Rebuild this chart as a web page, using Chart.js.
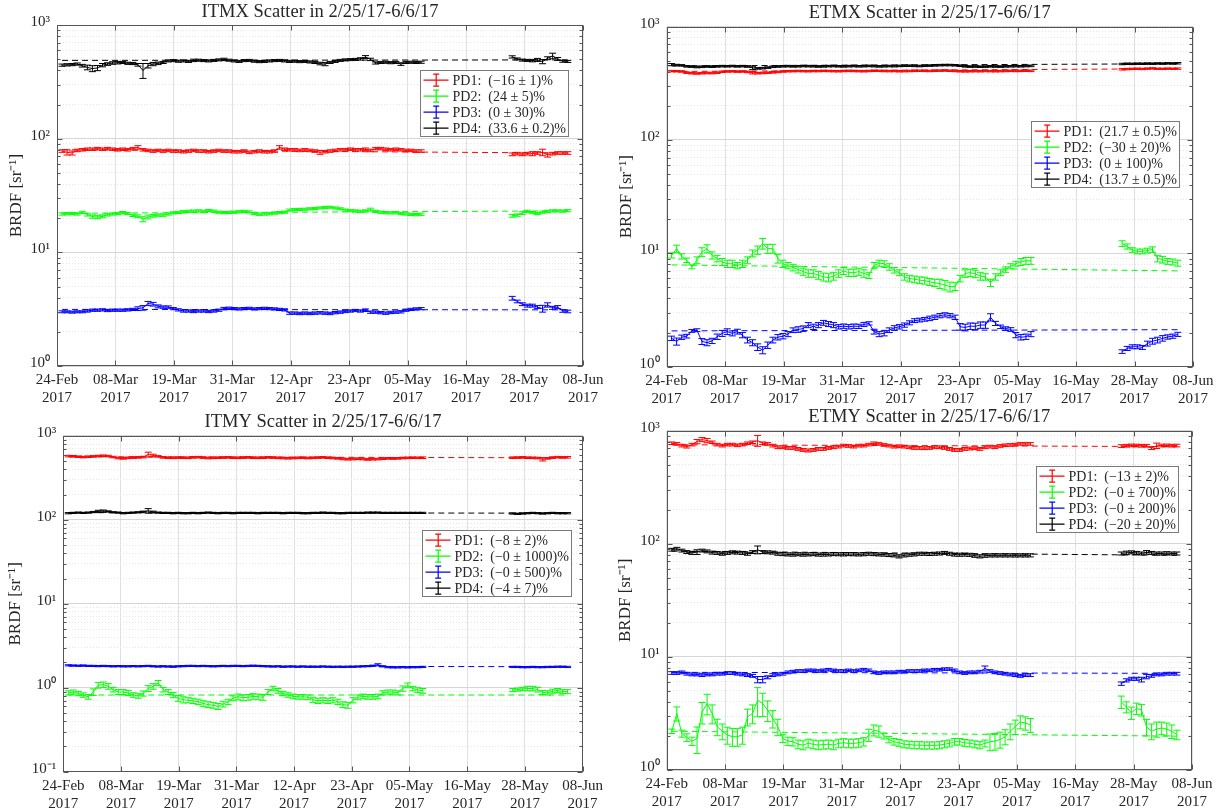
<!DOCTYPE html>
<html><head><meta charset="utf-8">
<script src="https://cdn.jsdelivr.net/npm/chart.js@4.4.1/dist/chart.umd.min.js"></script>
<style>
body{margin:0;background:#fff;width:1228px;height:812px;overflow:hidden;position:relative}
canvas{position:absolute}
</style></head><body>
<canvas id="c1" width="614" height="406" style="left:0;top:0"></canvas>
<canvas id="c2" width="614" height="406" style="left:614px;top:0"></canvas>
<canvas id="c3" width="614" height="406" style="left:0;top:406px"></canvas>
<canvas id="c4" width="614" height="406" style="left:614px;top:406px"></canvas>
<script>
// ---------- shared data ----------
const days = [1,2,3,4,5,6,7,8,9,10,11,12,13,14,15,16,17,18,19,20,21,22,23,24,25,26,27,28,29,30,31,32,33,34,35,36,
37,38,39,40,41,42,43,44,45,46,47,48,49,50,51,52,53,54,55,56,57,58,59,60,61,62,63,64,65,66,67,68,69,70,71,72,
90,91,92,93,94,95,96,97,98,99,100,101];
const fitDays = [1, 101];
const xSpanDays = 104;
const xTickLabels = [['24-Feb','2017'],['08-Mar','2017'],['19-Mar','2017'],['31-Mar','2017'],['12-Apr','2017'],
  ['23-Apr','2017'],['05-May','2017'],['16-May','2017'],['28-May','2017'],['08-Jun','2017']];
const yDecadesA = [1,10,100,1000];
const yLabelsA = ['10⁰','10¹','10²','10³'];
const yDecadesB = [0.1,1,10,100,1000];
const yLabelsB = ['10⁻¹','10⁰','10¹','10²','10³'];
const seriesNames = ['PD1','PD2','PD3','PD4'];
const seriesColors = ['#ff0000','#00ff00','#0000ff','#000000'];

// ---------- ITMX ----------
const itmxPD1 = [78,76,75,79,80,81,81,82,81,82,81,80,
81,80,82,84,80,79,78,79,78,79,78,78,
77,78,79,78,78,77,78,79,78,78,77,77,
78,76,77,78,77,77,78,84,81,80,80,79,
80,79,78,76,77,78,79,80,80,81,80,80,
81,79,82,82,81,80,81,80,79,79,78,78,
73,74,73,74,74,75,76,72,74,75,75,75];
const itmxPD1Err = [2,4,3,2,2,2,2,2,2,2,2,2,
2,2,2,3,2,2,2,2,2,2,2,2,
2,2,2,2,2,2,2,2,2,2,2,2,
2,2,2,2,2,2,2,3,2,2,2,2,
2,2,2,3,2,2,2,2,2,2,2,2,
2,2,2,2,2,2,2,2,2,2,2,2,
2,2,2,2,3,2,5,3,2,2,2,2];
const itmxPD2 = [21.8,21.9,22.0,21.8,22.5,21.5,20.7,20.5,20.8,21.4,21.8,22.0,
22.4,22.0,21.2,20.8,19.6,20.5,21.0,21.3,21.3,21.8,22.3,22.5,
22.8,23.0,23.1,23.2,23.0,23.4,23.1,22.6,22.4,22.5,22.6,22.8,
23.0,22.7,22.0,21.7,21.8,21.9,22.2,22.4,22.6,23.6,23.8,23.9,
24.0,24.2,24.4,24.6,24.9,25.0,24.6,24.2,23.6,23.3,23.2,23.0,
23.2,23.8,23.0,22.6,22.4,22.3,22.4,22.0,21.8,21.6,21.5,21.7,
21.0,21.3,22.2,23.0,22.4,22.0,22.6,23.0,23.2,23.2,23.1,23.3];
const itmxPD2Err = [0.5,0.5,0.5,0.5,0.5,0.6,0.7,0.7,0.6,0.5,0.5,0.5,
0.5,0.5,0.5,0.6,1.0,0.8,0.6,0.5,0.5,0.5,0.5,0.5,
0.5,0.5,0.5,0.5,0.5,0.5,0.5,0.5,0.5,0.5,0.5,0.5,
0.5,0.5,0.5,0.5,0.5,0.5,0.5,0.5,0.5,0.5,0.5,0.5,
0.5,0.5,0.5,0.5,0.5,0.5,0.5,0.5,0.5,0.5,0.5,0.5,
0.5,0.7,0.5,0.5,0.5,0.5,0.5,0.5,0.5,0.5,0.5,0.5,
0.6,0.5,0.6,0.5,0.5,0.5,0.5,0.5,0.5,0.5,0.5,0.5];
const itmxPD3 = [3.00,3.00,2.98,3.00,3.00,3.05,3.10,3.10,3.12,3.08,3.10,3.10,
3.10,3.12,3.15,3.20,3.25,3.55,3.50,3.35,3.30,3.30,3.20,3.12,
3.05,3.05,3.02,3.05,3.05,3.02,3.05,3.10,3.20,3.22,3.20,3.18,
3.20,3.22,3.18,3.20,3.22,3.20,3.18,3.15,3.12,2.92,2.92,2.90,
2.92,2.90,2.92,2.94,2.92,2.90,2.95,2.98,3.02,3.05,3.08,3.05,
3.10,2.98,2.98,2.95,2.92,2.96,2.98,3.00,3.10,3.15,3.18,3.20,
3.95,3.70,3.50,3.40,3.40,3.30,3.20,3.45,3.25,3.30,3.05,3.02];
const itmxPD3Err = [0.06,0.06,0.06,0.06,0.06,0.07,0.07,0.07,0.07,0.07,0.07,0.07,
0.07,0.07,0.07,0.12,0.15,0.15,0.13,0.10,0.08,0.08,0.07,0.07,
0.07,0.07,0.07,0.07,0.07,0.07,0.07,0.07,0.08,0.08,0.07,0.07,
0.07,0.07,0.07,0.07,0.07,0.07,0.07,0.07,0.07,0.07,0.07,0.07,
0.07,0.07,0.07,0.07,0.07,0.07,0.07,0.07,0.07,0.07,0.07,0.07,
0.08,0.07,0.07,0.07,0.07,0.07,0.07,0.07,0.07,0.07,0.07,0.07,
0.15,0.10,0.10,0.10,0.10,0.10,0.22,0.15,0.10,0.10,0.08,0.08];
const itmxPD4 = [445,448,450,455,440,425,415,420,445,455,465,468,
470,462,460,448,400,440,455,462,470,485,488,482,
485,480,490,492,488,485,490,495,500,492,485,480,
488,490,482,478,480,485,488,490,485,480,482,478,
480,475,470,460,455,470,480,490,495,498,500,505,
525,500,465,470,472,468,470,455,470,472,470,472,
526,505,493,490,488,495,478,512,537,505,482,480];
const itmxPD4Err = [10,10,10,10,12,20,25,22,15,12,12,12,
10,10,10,12,60,20,15,12,10,10,10,10,
10,10,12,10,10,10,10,10,12,10,10,10,
10,10,10,10,10,10,10,10,10,10,10,10,
10,10,10,12,15,10,10,10,10,10,10,12,
15,12,10,10,10,10,10,12,10,10,10,10,
12,10,10,10,12,15,20,15,30,15,10,10];
const itmxFitStart = [80, 22.1, 3.15, 490];
const itmxFitEnd = [75, 23.2, 3.12, 495];
const itmxLegend = ['(−16 ± 1)%','(24 ± 5)%','(0 ± 30)%','(33.6 ± 0.2)%'];

// ---------- ETMX ----------
const etmxPD1 = [405,404,402,392,388,386,388,390,389,392,400,402,
403,401,402,398,392,388,390,392,395,398,402,404,
405,406,405,404,406,405,407,406,405,404,406,407,
406,405,404,406,408,407,406,405,406,404,405,406,
407,408,407,406,408,409,410,408,406,404,403,404,
405,404,406,405,404,405,406,407,406,407,408,407,
420,422,424,425,423,426,428,425,424,426,425,426];
const etmxPD1Err = [6,6,6,6,6,6,6,6,6,6,6,6,
6,6,6,6,10,6,6,6,6,6,6,6,
6,6,6,6,6,6,6,6,6,6,6,6,
6,6,6,6,6,6,6,6,6,6,6,6,
6,6,6,6,6,6,6,6,6,6,6,6,
6,6,6,6,6,6,6,6,6,6,6,6,
6,6,6,6,6,6,6,6,6,6,6,6];
const etmxPD2 = [9.6,11.0,9.4,8.7,7.6,8.7,10.3,11.0,9.6,9.0,8.4,8.1,
8.1,7.8,8.1,8.7,10.0,10.7,12.2,11.0,11.0,9.0,8.1,7.8,
7.5,7.2,6.9,6.65,6.65,6.4,6.2,6.1,6.3,6.65,7.0,6.75,
6.75,6.9,6.65,6.4,7.8,8.2,8.1,7.6,7.1,6.75,6.2,6.0,
5.9,5.8,5.75,5.6,5.5,5.4,5.25,5.07,5.1,6.0,6.65,6.75,
6.6,6.3,6.2,5.5,6.2,6.75,7.2,7.7,8.1,8.4,8.6,8.6,
12.2,11.5,10.7,10.4,10.4,10.6,10.8,9.0,8.8,8.5,8.4,8.2];
const etmxPD2Err = [0.5,0.8,0.5,0.4,0.3,0.6,0.9,0.9,0.7,0.6,0.6,0.6,
0.6,0.5,0.6,0.6,0.7,0.9,1.3,1.0,1.0,0.8,0.6,0.5,
0.5,0.5,0.5,0.5,0.5,0.5,0.5,0.5,0.5,0.5,0.5,0.5,
0.5,0.5,0.5,0.4,0.5,0.5,0.5,0.5,0.4,0.4,0.4,0.4,
0.4,0.4,0.4,0.4,0.4,0.5,0.5,0.5,0.4,0.4,0.5,0.5,
0.5,0.5,0.4,0.4,0.4,0.4,0.4,0.4,0.4,0.6,0.6,0.6,
0.7,0.6,0.5,0.5,0.5,0.5,0.6,0.6,0.6,0.5,0.5,0.5];
const etmxPD3 = [1.78,1.67,1.82,1.86,2.07,2.10,1.67,1.63,1.69,1.84,1.97,2.04,
1.97,2.04,1.90,1.72,1.63,1.49,1.40,1.55,1.72,1.82,1.86,1.94,
2.10,2.13,2.17,2.33,2.25,2.33,2.44,2.38,2.33,2.25,2.28,2.25,
2.28,2.27,2.36,2.41,2.04,1.94,1.97,2.10,2.20,2.25,2.33,2.44,
2.55,2.58,2.62,2.67,2.73,2.82,2.87,2.82,2.73,2.25,2.22,2.28,
2.27,2.33,2.33,2.73,2.41,2.25,2.17,2.13,1.90,1.82,1.84,1.94,
1.36,1.45,1.50,1.50,1.48,1.60,1.68,1.72,1.78,1.83,1.86,1.93];
const etmxPD3Err = [0.08,0.12,0.08,0.07,0.06,0.06,0.10,0.10,0.09,0.10,0.12,0.12,
0.10,0.10,0.10,0.10,0.10,0.10,0.10,0.10,0.10,0.10,0.10,0.10,
0.10,0.12,0.12,0.12,0.12,0.12,0.12,0.12,0.12,0.10,0.10,0.10,
0.10,0.10,0.10,0.08,0.10,0.10,0.10,0.10,0.10,0.10,0.10,0.10,
0.10,0.10,0.10,0.12,0.12,0.12,0.12,0.12,0.12,0.15,0.15,0.15,
0.15,0.15,0.15,0.20,0.10,0.08,0.08,0.08,0.10,0.10,0.10,0.10,
0.05,0.06,0.06,0.06,0.06,0.08,0.10,0.10,0.10,0.08,0.08,0.08];
const etmxPD4 = [462,458,455,446,444,440,442,445,443,446,448,447,
449,446,448,445,432,428,430,435,442,445,447,448,
446,447,449,448,447,445,446,448,449,447,446,448,
449,447,448,450,448,446,447,449,448,450,451,452,
450,449,451,453,455,457,458,458,456,452,446,444,
445,443,444,446,445,444,446,447,448,447,449,450,
468,470,469,471,470,472,471,473,472,474,473,475];
const etmxPD4Err = [10,7,7,7,7,7,7,7,7,7,7,7,
7,7,7,7,15,7,7,7,7,7,7,7,
7,7,7,7,7,7,7,7,7,7,7,7,
7,7,7,7,7,7,7,7,7,7,7,7,
7,7,7,7,7,7,7,7,7,7,7,7,
7,7,7,7,7,7,7,7,7,7,7,7,
7,7,7,7,7,7,7,7,7,7,7,7];
const etmxFitStart = [402, 7.9, 2.07, 450];
const etmxFitEnd = [425, 7.0, 2.12, 470];
const etmxLegend = ['(21.7 ± 0.5)%','(−30 ± 20)%','(0 ± 100)%','(13.7 ± 0.5)%'];

// ---------- ITMY ----------
const itmyPD1 = [575,572,565,560,565,570,575,580,575,560,545,540,
548,552,555,560,600,585,570,555,550,548,552,550,
548,555,558,552,545,548,550,552,555,550,548,552,
555,550,548,550,555,552,548,545,542,545,548,550,
545,548,552,555,550,545,540,532,528,530,535,530,
525,528,530,535,540,538,540,545,548,550,548,550,
550,552,555,550,548,545,525,540,552,558,555,556];
const itmyPD1Err = [12,12,12,12,12,12,12,12,12,12,12,12,
12,12,12,12,40,20,12,12,12,12,12,12,
12,12,12,12,12,12,12,12,12,12,12,12,
12,12,12,12,12,12,12,12,12,12,12,12,
12,12,12,12,12,12,12,12,12,12,12,12,
12,12,12,12,12,12,12,12,12,12,12,12,
12,12,12,12,12,12,22,12,12,12,12,12];
const itmyPD2 = [0.87,0.89,0.855,0.82,0.78,0.89,1.07,1.09,1.04,0.95,0.89,0.89,
0.87,0.82,0.80,0.855,0.98,1.04,1.14,0.95,0.89,0.82,0.75,0.72,
0.71,0.70,0.68,0.65,0.63,0.62,0.60,0.64,0.68,0.75,0.78,0.76,
0.77,0.79,0.78,0.77,0.89,0.98,0.92,0.855,0.82,0.79,0.78,0.78,
0.77,0.72,0.70,0.71,0.70,0.71,0.68,0.63,0.62,0.71,0.77,0.79,
0.78,0.78,0.79,0.87,0.89,0.89,0.87,0.98,1.07,0.98,0.94,0.92,
0.94,0.95,0.97,0.98,0.98,0.95,0.88,0.87,0.91,0.93,0.90,0.90];
const itmyPD2Err = [0.05,0.05,0.05,0.05,0.05,0.08,0.08,0.08,0.08,0.06,0.06,0.06,
0.06,0.05,0.05,0.06,0.08,0.08,0.08,0.06,0.06,0.06,0.06,0.06,
0.05,0.05,0.05,0.05,0.05,0.05,0.05,0.05,0.05,0.05,0.06,0.06,
0.06,0.06,0.06,0.06,0.06,0.06,0.06,0.05,0.05,0.05,0.05,0.05,
0.05,0.05,0.05,0.05,0.05,0.05,0.05,0.05,0.05,0.05,0.05,0.05,
0.05,0.05,0.05,0.05,0.05,0.05,0.05,0.07,0.07,0.06,0.06,0.06,
0.04,0.04,0.04,0.06,0.06,0.06,0.05,0.05,0.05,0.05,0.05,0.05];
const itmyPD3 = [1.85,1.84,1.83,1.84,1.82,1.82,1.81,1.82,1.81,1.80,1.81,1.80,
1.80,1.81,1.80,1.81,1.82,1.80,1.79,1.80,1.79,1.78,1.80,1.81,
1.82,1.82,1.81,1.82,1.81,1.80,1.81,1.82,1.81,1.82,1.82,1.81,
1.82,1.83,1.82,1.81,1.80,1.79,1.80,1.78,1.79,1.79,1.78,1.79,
1.78,1.78,1.78,1.79,1.78,1.77,1.78,1.77,1.78,1.78,1.79,1.80,
1.81,1.83,1.88,1.80,1.76,1.75,1.75,1.76,1.75,1.76,1.76,1.77,
1.77,1.77,1.76,1.76,1.77,1.76,1.76,1.77,1.77,1.78,1.78,1.77];
const itmyPD3Err = [0.03,0.03,0.03,0.03,0.03,0.03,0.03,0.03,0.03,0.03,0.03,0.03,
0.03,0.03,0.03,0.03,0.03,0.03,0.03,0.03,0.03,0.03,0.03,0.03,
0.03,0.03,0.03,0.03,0.03,0.03,0.03,0.03,0.03,0.03,0.03,0.03,
0.03,0.03,0.03,0.03,0.03,0.03,0.03,0.03,0.03,0.03,0.03,0.03,
0.03,0.03,0.03,0.03,0.03,0.03,0.03,0.03,0.03,0.03,0.03,0.03,
0.03,0.03,0.05,0.03,0.03,0.03,0.03,0.03,0.03,0.03,0.03,0.03,
0.03,0.03,0.03,0.03,0.03,0.03,0.03,0.03,0.03,0.03,0.03,0.03];
const itmyPD4 = [120,121,122,121,122,124,126,127,126,123,122,120,
121,122,123,125,128,124,122,121,121,120,121,120,
120,121,120,121,122,121,120,121,121,120,121,121,
121,121,120,121,121,121,121,120,121,121,121,120,
120,121,121,122,121,121,120,120,121,121,121,121,
122,122,122,121,121,121,121,121,121,121,121,121,
119,118,119,120,121,120,119,120,121,120,120,120];
const itmyPD4Err = [2,2,2,2,2,2,4,4,2,2,2,2,
2,2,2,2,8,3,2,2,2,2,2,2,
2,2,2,2,2,2,2,2,2,2,2,2,
2,2,2,2,2,2,2,2,2,2,2,2,
2,2,2,2,2,2,2,2,2,2,2,2,
2,2,2,2,2,2,2,2,2,2,2,2,
2,2,2,2,2,2,2,2,2,2,2,2];
const itmyFitStart = [565, 0.82, 1.82, 122];
const itmyFitEnd = [548, 0.82, 1.78, 120];
const itmyLegend = ['(−8 ± 2)%','(−0 ± 1000)%','(−0 ± 500)%','(−4 ± 7)%'];

// ---------- ETMY ----------
const etmyPD1 = [773,763,737,722,752,800,833,816,789,752,737,752,
752,742,752,773,789,816,773,763,737,713,713,703,
703,689,675,667,675,689,689,703,713,722,737,732,
722,737,737,752,773,763,747,737,722,727,722,713,
703,703,699,703,713,713,703,689,675,675,689,694,
699,689,713,722,713,732,742,747,752,763,763,763,
730,735,740,738,735,735,700,735,738,740,736,738];
const etmyPD1Err = [20,20,20,20,20,35,35,35,20,20,20,20,
20,20,20,20,20,90,20,20,20,20,20,20,
20,20,20,20,20,20,20,20,20,20,20,20,
20,20,20,20,20,20,20,20,20,20,20,20,
20,20,20,20,20,20,20,20,20,20,20,20,
20,20,20,20,20,20,20,20,20,20,20,20,
20,20,20,20,20,20,20,40,20,20,20,20];
const etmyPD2 = [2.2,3.16,2.1,1.94,1.8,1.9,3.25,3.87,3.16,2.41,2.2,2.04,
1.97,1.97,2.04,2.95,3.16,4.15,3.87,3.38,2.85,2.41,1.9,1.8,
1.78,1.69,1.66,1.72,1.69,1.66,1.68,1.69,1.66,1.72,1.74,1.72,
1.72,1.74,1.78,2.04,2.25,2.2,2.0,1.86,1.78,1.74,1.69,1.68,
1.66,1.66,1.65,1.65,1.65,1.66,1.69,1.72,1.78,1.78,1.74,1.72,
1.69,1.66,1.72,1.78,1.8,1.86,1.97,2.2,2.41,2.66,2.6,2.5,
4.0,3.6,3.2,3.5,3.4,2.4,2.2,2.3,2.35,2.3,2.2,2.05];
const etmyPD2Err = [0.1,0.45,0.15,0.15,0.15,0.5,0.7,0.8,0.6,0.4,0.35,0.35,
0.35,0.35,0.35,0.5,0.6,1.2,0.9,0.7,0.5,0.4,0.15,0.15,
0.15,0.15,0.15,0.15,0.15,0.15,0.15,0.15,0.15,0.15,0.15,0.15,
0.15,0.15,0.15,0.25,0.25,0.25,0.12,0.12,0.12,0.12,0.12,0.12,
0.12,0.12,0.12,0.12,0.12,0.12,0.12,0.12,0.12,0.12,0.12,0.12,
0.12,0.12,0.12,0.3,0.3,0.3,0.3,0.35,0.35,0.35,0.35,0.35,
0.5,0.4,0.4,0.4,0.4,0.4,0.35,0.35,0.3,0.3,0.3,0.2];
const etmyPD3 = [7.2,7.2,7.3,7.1,7.0,7.0,6.9,7.0,7.0,7.1,7.1,7.2,
7.2,7.1,7.0,6.9,6.8,6.3,6.3,6.6,6.9,7.0,7.1,7.3,
7.4,7.5,7.5,7.6,7.6,7.5,7.6,7.7,7.6,7.5,7.5,7.6,
7.5,7.6,7.7,7.6,7.3,7.2,7.3,7.3,7.3,7.4,7.4,7.5,
7.5,7.5,7.6,7.6,7.7,7.7,7.8,7.8,7.6,7.3,7.2,7.3,
7.3,7.4,7.9,7.5,7.3,7.2,7.1,7.0,6.9,6.8,6.9,6.9,
5.8,6.2,6.4,6.4,6.3,6.7,6.8,7.0,7.0,7.1,7.1,7.1];
const etmyPD3Err = [0.2,0.2,0.2,0.2,0.2,0.2,0.2,0.2,0.2,0.2,0.2,0.2,
0.2,0.2,0.2,0.2,0.2,0.4,0.4,0.2,0.2,0.2,0.2,0.2,
0.2,0.2,0.2,0.2,0.2,0.2,0.2,0.2,0.2,0.2,0.2,0.2,
0.2,0.2,0.2,0.2,0.2,0.2,0.2,0.2,0.2,0.2,0.2,0.2,
0.2,0.2,0.2,0.2,0.2,0.2,0.2,0.2,0.2,0.2,0.2,0.2,
0.2,0.2,0.4,0.2,0.2,0.2,0.2,0.2,0.2,0.2,0.2,0.2,
0.2,0.2,0.2,0.2,0.3,0.3,0.2,0.2,0.2,0.2,0.2,0.2];
const etmyPD4 = [88.5,90.4,87,84.4,83,84.4,87,85.6,83.5,83,81.6,83,
84,83.5,83,81.6,84.4,88.5,84.4,84,83.5,81.6,81,80.5,
80.2,80.8,80.2,80.5,81,80.2,80.2,80.5,81,80.8,80.5,81,
80.8,80.5,80.8,81.6,81,80.5,80.2,79.5,79,77.4,78.9,80,
80.5,81.6,81.6,81.2,81.6,82,83,81.6,80.2,80,80.2,79.8,
78.4,77.4,78.4,78.9,78.9,79,78.9,79,78.8,79,78.9,79,
82,83,84,83,82,84,83,82,82,82.5,82,82];
const etmyPD4Err = [2.5,2.5,2.5,2.5,2.5,4,2.5,2.5,2.5,2.5,2.5,2.5,
2.5,2.5,2.5,2.5,2.5,7,2.5,2.5,2.5,2.5,2.5,2.5,
2.5,2.5,2.5,2.5,2.5,2.5,2.5,2.5,2.5,2.5,2.5,2.5,
2.5,2.5,2.5,2.5,2.5,2.5,2.5,2.5,2.5,2.5,2.5,2.5,
2.5,2.5,2.5,2.5,2.5,2.5,2.5,2.5,2.5,2.5,2.5,2.5,
2.5,2.5,2.5,2.5,2.5,2.5,2.5,2.5,2.5,2.5,2.5,2.5,
2.5,3,2.5,2.5,2.5,3,2.5,2.5,2.5,2.5,2.5,2.5];
const etmyFitStart = [750, 2.2, 7.3, 86];
const etmyFitEnd = [722, 1.99, 7.15, 79];
const etmyLegend = ['(−13 ± 2)%','(−0 ± 700)%','(−0 ± 200)%','(−20 ± 20)%'];

// ---------- panels (layout) ----------
const panels = [
  {id:'c1', title:'ITMX Scatter in 2/25/17-6/6/17',
   series:[itmxPD1,itmxPD2,itmxPD3,itmxPD4], errors:[itmxPD1Err,itmxPD2Err,itmxPD3Err,itmxPD4Err],
   fitStart:itmxFitStart, fitEnd:itmxFitEnd, legend:itmxLegend, decades:yDecadesA, decLabels:yLabelsA,
   yAxisW:57, xAxisH:40, padR:31, titlePad:{top:1,bottom:2}, yTitlePad:6, legRight:15.5, legTop:45},
  {id:'c2', title:'ETMX Scatter in 2/25/17-6/6/17',
   series:[etmxPD1,etmxPD2,etmxPD3,etmxPD4], errors:[etmxPD1Err,etmxPD2Err,etmxPD3Err,etmxPD4Err],
   fitStart:etmxFitStart, fitEnd:etmxFitEnd, legend:etmxLegend, decades:yDecadesA, decLabels:yLabelsA,
   yAxisW:52.5, xAxisH:39.3, padR:35, titlePad:{top:2,bottom:2.4}, yTitlePad:2, legRight:14.3, legTop:94.7},
  {id:'c3', title:'ITMY Scatter in 2/25/17-6/6/17',
   series:[itmyPD1,itmyPD2,itmyPD3,itmyPD4], errors:[itmyPD1Err,itmyPD2Err,itmyPD3Err,itmyPD4Err],
   fitStart:itmyFitStart, fitEnd:itmyFitEnd, legend:itmyLegend, decades:yDecadesB, decLabels:yLabelsB,
   yAxisW:63.3, xAxisH:40.3, padR:31.4, titlePad:{top:5,bottom:2.7}, yTitlePad:5.5, legRight:12, legTop:94},
  {id:'c4', title:'ETMY Scatter in 2/25/17-6/6/17',
   series:[etmyPD1,etmyPD2,etmyPD3,etmyPD4], errors:[etmyPD1Err,etmyPD2Err,etmyPD3Err,etmyPD4Err],
   fitStart:etmyFitStart, fitEnd:etmyFitEnd, legend:etmyLegend, decades:yDecadesA, decLabels:yLabelsA,
   yAxisW:52.7, xAxisH:42, padR:36, titlePad:{top:0,bottom:2.4}, yTitlePad:1.6, legRight:14.5, legTop:35.3}
];

// ---------- rendering ----------
const FONT = '"Liberation Serif", "Times New Roman", serif';
const TXT = '#262626';
Chart.defaults.font.family = FONT;
Chart.defaults.color = TXT;

const matlabStyle = {
  id: 'matlabStyle',
  afterDatasetDraw(chart, args) {
    const ds = chart.data.datasets[args.index];
    if (!ds.errors) return;
    const ctx = chart.ctx, ys = chart.scales.y, a = chart.chartArea, cap = 3.5;
    ctx.save();
    ctx.beginPath(); ctx.rect(a.left, a.top, a.right - a.left, a.bottom - a.top); ctx.clip();
    ctx.strokeStyle = ds.borderColor; ctx.lineWidth = 1;
    ctx.beginPath();
    args.meta.data.forEach((pt, i) => {
      const v = ds.data[i].y, e = ds.errors[i];
      const lo = ys.getPixelForValue(v - e), hi = ys.getPixelForValue(v + e);
      const x = pt.x;
      ctx.moveTo(x, lo); ctx.lineTo(x, hi);
      ctx.moveTo(x - cap, lo); ctx.lineTo(x + cap, lo);
      ctx.moveTo(x - cap, hi); ctx.lineTo(x + cap, hi);
    });
    ctx.stroke(); ctx.restore();
  },
  afterDraw(chart, args, opts) {
    const ctx = chart.ctx, a = chart.chartArea, xs = chart.scales.x, ys = chart.scales.y;
    ctx.save();
    const L = Math.round(a.left) + 0.5, R = Math.round(a.right) - 0.5;
    const T = Math.round(a.top) + 0.5, B = Math.round(a.bottom) - 0.5;
    ctx.strokeStyle = '#555555'; ctx.lineWidth = 1;
    ctx.strokeRect(L, T, R - L, B - T);
    ctx.beginPath();
    xs.ticks.forEach(t => {
      const px = Math.round(xs.getPixelForValue(t.value)) + 0.5;
      ctx.moveTo(px, B); ctx.lineTo(px, B - 5); ctx.moveTo(px, T); ctx.lineTo(px, T + 5);
    });
    ys.ticks.forEach(t => {
      const py = Math.round(ys.getPixelForValue(t.value)) + 0.5;
      const len = opts.isDec(t.value) ? 5 : 3;
      ctx.moveTo(L, py); ctx.lineTo(L + len, py); ctx.moveTo(R, py); ctx.lineTo(R - len, py);
    });
    ctx.stroke();
    // legend
    ctx.font = '14px ' + FONT;
    const labels = opts.labels;
    const w = Math.round(Math.max(...labels.map(s => ctx.measureText(s).width)) + 35);
    const h = 66;
    const bx = Math.round(a.right - opts.right - w) + 0.5;
    const by = Math.round(a.top + opts.top) + 0.5;
    ctx.fillStyle = '#ffffff'; ctx.fillRect(bx, by, w, h);
    ctx.strokeStyle = '#7a7a7a'; ctx.strokeRect(bx, by, w, h);
    labels.forEach((s, k) => {
      const cy = Math.round(by + 9 + k * 16) + 0.2;
      const cx = Math.round(bx + 15) + 0.2;
      ctx.strokeStyle = seriesColors[k]; ctx.lineWidth = 1.2;
      ctx.beginPath();
      ctx.moveTo(bx + 3, cy); ctx.lineTo(bx + 28, cy);
      ctx.moveTo(cx, cy - 6); ctx.lineTo(cx, cy + 6);
      ctx.moveTo(cx - 3, cy - 6); ctx.lineTo(cx + 3, cy - 6);
      ctx.moveTo(cx - 3, cy + 6); ctx.lineTo(cx + 3, cy + 6);
      ctx.stroke();
      ctx.fillStyle = TXT; ctx.textBaseline = 'middle'; ctx.textAlign = 'left';
      ctx.fillText(s, bx + 32, cy + 1);
    });
    ctx.restore();
  }
};

panels.forEach(P => {
  const isDec = v => P.decades.some(d => Math.abs(d - v) / d < 1e-6);
  const datasets = [];
  P.series.forEach((vals, k) => {
    datasets.push({
      data: days.map((d, i) => ({x: d, y: vals[i]})),
      errors: P.errors[k],
      borderColor: seriesColors[k], borderWidth: 1, pointRadius: 0, tension: 0,
      fill: false, spanGaps: 5
    });
  });
  P.series.forEach((vals, k) => {
    datasets.push({
      data: fitDays.map((d, i) => ({x: d, y: i === 0 ? P.fitStart[k] : P.fitEnd[k]})),
      borderColor: seriesColors[k], borderWidth: 1, borderDash: [6, 4], pointRadius: 0, fill: false
    });
  });
  new Chart(document.getElementById(P.id), {
    type: 'line',
    data: {datasets},
    plugins: [matlabStyle],
    options: {
      responsive: false, animation: false, devicePixelRatio: 1,
      layout: {padding: {left: 0, right: P.padR, top: 0, bottom: 0}},
      plugins: {
        legend: {display: false}, tooltip: {enabled: false},
        title: {display: true, fullSize: false, text: P.title, color: TXT, font: {size: 18.5, weight: 'normal'}, padding: P.titlePad},
        matlabStyle: {labels: P.legend.map((s, k) => seriesNames[k] + ':  ' + s), right: P.legRight, top: P.legTop, isDec}
      },
      scales: {
        x: {
          type: 'linear', min: 0, max: xSpanDays,
          afterBuildTicks: s => { s.ticks = xTickLabels.map((_, k) => ({value: k * xSpanDays / (xTickLabels.length - 1)})); },
          afterFit: s => { s.height = P.xAxisH; },
          ticks: {autoSkip: false, maxRotation: 0, minRotation: 0, padding: 5, color: TXT, font: {size: 15},
                  callback: (v, i) => xTickLabels[i]},
          grid: {color: '#e0e0e0', lineWidth: 1, drawTicks: false},
          border: {display: false}
        },
        y: {
          type: 'logarithmic', min: P.decades[0], max: P.decades[P.decades.length - 1],
          afterBuildTicks: s => {
            const t = [];
            P.decades.forEach((d, k) => {
              t.push({value: d});
              if (k < P.decades.length - 1) for (let m = 2; m <= 9; m++) t.push({value: d * m});
            });
            s.ticks = t;
          },
          afterFit: s => { s.width = P.yAxisW; },
          ticks: {autoSkip: false, padding: 7, labelOffset: -3, color: TXT, font: {size: 15},
                  callback: v => { const k = P.decades.findIndex(d => Math.abs(d - v) / d < 1e-6); return k >= 0 ? P.decLabels[k] : ''; }},
          grid: {drawTicks: false, lineWidth: 1,
                 color: c => (c.tick && !isDec(c.tick.value)) ? '#e6e6e6' : '#d6d6d6'},
          border: {display: false, dash: c => (c.tick && !isDec(c.tick.value)) ? [1, 2] : []},
          title: {display: true, text: 'BRDF [sr⁻¹]', color: TXT, font: {size: 17}, padding: {top: P.yTitlePad, bottom: 0}}
        }
      }
    }
  });
});
</script>
</body></html>
